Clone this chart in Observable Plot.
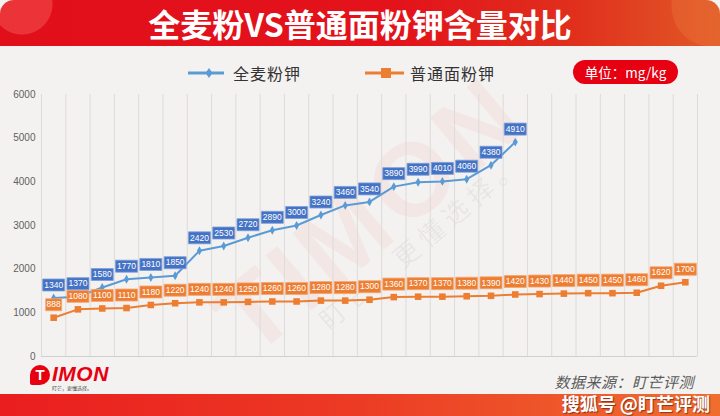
<!DOCTYPE html>
<html><head><meta charset="utf-8">
<script src="https://cdn.jsdelivr.net/npm/d3@7"></script>
<script src="https://cdn.jsdelivr.net/npm/@observablehq/plot@0.6"></script>
<style>
html,body{margin:0;padding:0;background:#f4f2f0;}
#wrap{position:relative;width:720px;height:416px;overflow:hidden;background:#f4f2f0;font-family:"Noto Sans CJK SC","Noto Sans",sans-serif;}
#header{position:absolute;left:0;top:0;width:720px;height:46px;border-radius:14px 14px 0 0;
 background:
  radial-gradient(circle at 22px 4px, rgba(255,120,110,0.35) 0 30px, transparent 31px),
  radial-gradient(circle at 712px 6px, rgba(235,120,60,0.35) 0 40px, transparent 41px),
  linear-gradient(90deg,#e10f1a 0%,#e3121b 55%,#e0301d 80%,#e15a26 100%);}
#title{position:absolute;left:0;top:0;width:720px;height:46px;line-height:47px;text-align:center;color:#fff;font-size:32px;font-weight:bold;}
.lg{position:absolute;font-size:16px;color:#333;line-height:20px;top:63px;letter-spacing:1px;}
#unit{position:absolute;left:573px;top:60px;width:105px;height:24px;border-radius:12px;background:#e60012;color:#fff;font-size:13.5px;line-height:24px;text-align:center;}
#wm1{position:absolute;left:370px;top:215px;transform:translate(-50%,-50%) rotate(-40deg);font-family:"Liberation Sans",sans-serif;font-weight:bold;font-size:104px;letter-spacing:6px;color:rgba(235,60,60,0.06);white-space:nowrap;}
#wm2{position:absolute;left:420px;top:240px;transform:translate(-50%,-50%) rotate(-40deg);font-size:26px;letter-spacing:6px;color:rgba(110,110,110,0.09);white-space:nowrap;}
#chart{position:absolute;left:0;top:86px;}
#src{position:absolute;right:26px;top:374px;font-size:15px;line-height:16px;color:#5a5a5a;font-style:italic;letter-spacing:0.5px;}
#band{position:absolute;left:0;top:394px;width:720px;height:22px;background:linear-gradient(90deg,#ea1d1f 0%,#ec3b24 50%,#ee5a2b 80%,#ef6e2f 100%);}
#sohu{position:absolute;right:10px;top:393px;color:#fff;font-size:18px;font-weight:bold;line-height:20px;text-shadow:1px 1px 1px rgba(0,0,0,0.45);}
#logoT{position:absolute;left:30px;top:365px;width:20px;height:20px;border-radius:50% 50% 50% 2px;background:#e60012;color:#fff;font-family:"Liberation Sans",sans-serif;font-weight:bold;font-size:15px;line-height:20px;text-align:center;}
#logoTxt{position:absolute;left:52px;top:362px;color:#e60012;font-family:"Liberation Sans",sans-serif;font-weight:bold;font-style:italic;font-size:21px;line-height:24px;letter-spacing:0.5px;}
#tag{position:absolute;left:52px;top:385px;font-size:5px;color:#555;line-height:6px;}
</style></head><body>
<div id="wrap">
  <div id="header"><div id="title">全麦粉VS普通面粉钾含量对比</div></div>
  <div id="wm1">TIMON</div>
  <div id="wm2">盯芒，更懂选择。</div>
  <svg style="position:absolute;left:186px;top:67px" width="40" height="12"><line x1="2" x2="38" y1="6" y2="6" stroke="#5b9bd5" stroke-width="3"/><path d="M23,1 L26.5,6 L23,11 L19.5,6 Z" fill="#5b9bd5"/></svg>
  <div class="lg" id="lg1" style="left:233px"></div>
  <svg style="position:absolute;left:364px;top:67px" width="42" height="12"><line x1="1" x2="40" y1="6" y2="6" stroke="#ed7d31" stroke-width="3"/><rect x="17" y="1" width="10" height="10" fill="#ed7d31"/></svg>
  <div class="lg" id="lg2" style="left:410px"></div>
  <div id="unit">单位：mg/kg</div>
  <div id="chart"></div>
  <div id="logoT">T</div>
  <div id="logoTxt">IMON</div>
  <div id="tag">盯芒，更懂选择。</div>
  <div id="src">数据来源：盯芒评测</div>
  <div id="band"></div>
  <div id="sohu">搜狐号 @盯芒评测</div>
</div>
<script>
const seriesNames = ["全麦粉钾", "普通面粉钾"];
const wheatValues = [1340,1370,1580,1770,1810,1850,2420,2530,2720,2890,3000,3240,3460,3540,3890,3990,4010,4060,4380,4910];
const plainValues = [888,1080,1100,1110,1180,1220,1240,1240,1250,1260,1260,1280,1280,1300,1360,1370,1370,1380,1390,1420,1430,1440,1450,1450,1460,1620,1700];
const yTicks = [0,1000,2000,3000,4000,5000,6000];

document.getElementById("lg1").textContent = seriesNames[0];
document.getElementById("lg2").textContent = seriesNames[1];

const wheat = wheatValues.map((v,i)=>({i, v}));
const plain = plainValues.map((v,i)=>({i, v}));
const nCat = plainValues.length;
const gridX = d3.range(nCat + 1).map(i => i - 0.5);

const box = (w) => ({draw(ctx){ ctx.rect(-w/2, -6, w, 12); }});
const labelFont = "Liberation Sans, Arial, sans-serif";

const chart = Plot.plot({
  width: 720, height: 282,
  marginTop: 8, marginBottom: 12, marginLeft: 41, marginRight: 23,
  style: {background: "transparent", fontFamily: labelFont, fontSize: "10px", color: "#5f5f5f", overflow: "visible"},
  x: {domain: [-0.5, nCat - 0.5], axis: null},
  y: {domain: [0, 6000], ticks: yTicks, tickSize: 0, tickPadding: 6, tickFormat: d => String(d), label: null},
  marks: [
    Plot.ruleX(gridX, {y1: 0, y2: 6000, stroke: "#dddbd9", strokeWidth: 1}),
    Plot.ruleY([0], {stroke: "#d2d0ce", strokeWidth: 1}),
    Plot.line(plain, {x: "i", y: "v", stroke: "#ed7d31", strokeWidth: 2}),
    Plot.dot(plain, {x: "i", y: "v", symbol: "square", fill: "#ed7d31", r: 3.7}),
    Plot.line(wheat, {x: "i", y: "v", stroke: "#5b9bd5", strokeWidth: 2}),
    Plot.dot(wheat, {x: "i", y: "v", symbol: "diamond", fill: "#5b9bd5", r: 2.7}),
    Plot.dot(plain, {filter: d => d.v < 1000, x: "i", y: "v", dy: -13, symbol: box(16), fill: "#ed7d31", stroke: "#f4a672", strokeWidth: 0.8}),
    Plot.dot(plain, {filter: d => d.v >= 1000, x: "i", y: "v", dy: -13, symbol: box(22), fill: "#ed7d31", stroke: "#f4a672", strokeWidth: 0.8}),
    Plot.text(plain, {x: "i", y: "v", dy: -13, text: d => String(d.v), fill: "#fff", fontSize: 8.5, fontFamily: labelFont}),
    Plot.dot(wheat, {x: "i", y: "v", dy: -13, symbol: box(22), fill: "#4472c4", stroke: "#7f9fda", strokeWidth: 0.8}),
    Plot.text(wheat, {x: "i", y: "v", dy: -13, text: d => String(d.v), fill: "#fff", fontSize: 8.5, fontFamily: labelFont})
  ]
});
document.getElementById("chart").appendChild(chart);
</script>
</body></html>
